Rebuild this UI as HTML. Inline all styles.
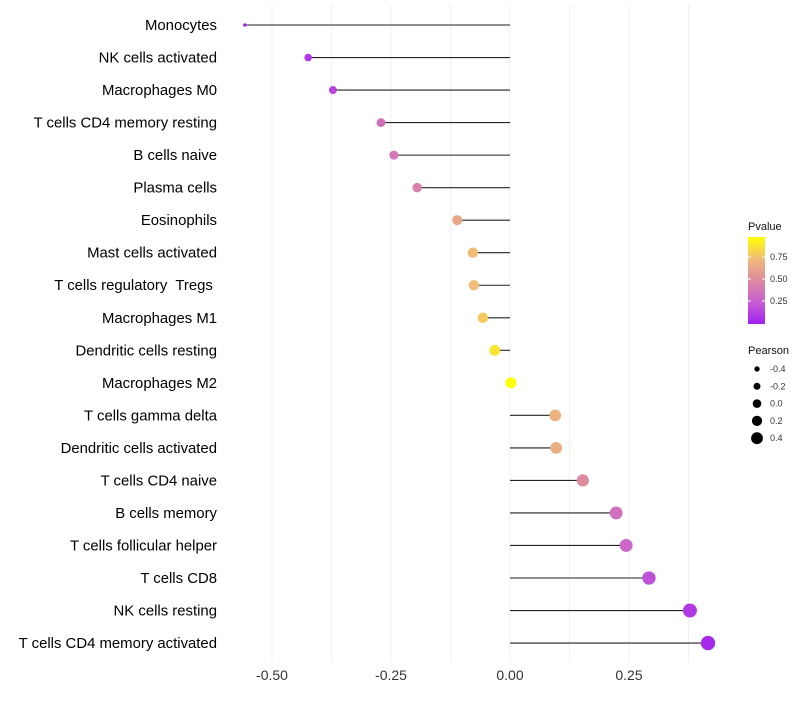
<!DOCTYPE html>
<html><head><meta charset="utf-8"><style>
body{margin:0;background:#fff;font-family:"Liberation Sans",sans-serif}
text{white-space:pre}
</style></head><body>
<svg id="c" width="800" height="700" xmlns="http://www.w3.org/2000/svg" font-family="Liberation Sans, sans-serif"></svg>
<script>
const cells=["Monocytes","NK cells activated","Macrophages M0","T cells CD4 memory resting","B cells naive","Plasma cells","Eosinophils","Mast cells activated","T cells regulatory  Tregs ","Macrophages M1","Dendritic cells resting","Macrophages M2","T cells gamma delta","Dendritic cells activated","T cells CD4 naive","B cells memory","T cells follicular helper","T cells CD8","NK cells resting","T cells CD4 memory activated"];
const pearson=[-0.557,-0.424,-0.372,-0.271,-0.244,-0.195,-0.111,-0.078,-0.076,-0.057,-0.032,0.002,0.095,0.097,0.153,0.223,0.244,0.292,0.378,0.416];
const pvalue=[0.03,0.1,0.15,0.35,0.4,0.45,0.65,0.75,0.75,0.8,0.9,1.0,0.7,0.68,0.5,0.35,0.3,0.2,0.1,0.04];
const xTicks=[-0.5,-0.25,0,0.25];
const xTickLabels=["-0.50","-0.25","0.00","0.25"];
const xMinor=[-0.375,-0.125,0.125,0.375];
const legTicks=[0.25,0.5,0.75];
const legSizes=[-0.4,-0.2,0.0,0.2,0.4];
const legSizeLabels=["-0.4","-0.2","0.0","0.2","0.4"];

const svg=document.getElementById('c');const NS="http://www.w3.org/2000/svg";
function mk(t,a,p){const e=document.createElementNS(NS,t);for(const k in a)e.setAttribute(k,a[k]);(p||svg).appendChild(e);return e;}
const X=v=>510+v*476;
const Y=i=>25+i*32.53;
const R=v=>v<-0.5?1.8:5.5+4*v;
const stops=[[0,[160,32,240]],[0.25,[198,94,210]],[0.5,[220,138,160]],[0.75,[240,188,120]],[1,[255,255,0]]];
function col(p){for(let i=1;i<stops.length;i++){if(p<=stops[i][0]){const a=stops[i-1],b=stops[i],t=(p-a[0])/(b[0]-a[0]);return 'rgb('+a[1].map((c,j)=>Math.round(c+(b[1][j]-c)*t)).join(',')+')';}}return 'rgb(255,255,0)';}
const grid=mk('g',{});  
xMinor.concat(xTicks).forEach(v=>{mk('line',{x1:X(v),x2:X(v),y1:5,y2:662,stroke:'#f0f0f0','stroke-width':1},grid);});
cells.forEach((c,i)=>{
 const t=mk('text',{x:217,y:Y(i)+5,'text-anchor':'end','font-size':14.9,fill:'#000'});t.textContent=c;
 
 const l=mk('line',{x1:X(0),x2:X(pearson[i]),y1:Y(i),y2:Y(i),stroke:'#222','stroke-width':1.1});
 
 const d=mk('circle',{cx:X(pearson[i]),cy:Y(i),r:R(pearson[i]),fill:col(pvalue[i])});
 
});
xTicks.forEach((v,i)=>{const t=mk('text',{x:X(v),y:680,'text-anchor':'middle','font-size':14,fill:'#333'});t.textContent=xTickLabels[i];
 });
const lg=mk('g',{});
let t=mk('text',{x:748,y:230,'font-size':11,fill:'#111'},lg);t.textContent='Pvalue';
const df=mk('defs',{});const gr=mk('linearGradient',{id:'g',x1:0,y1:1,x2:0,y2:0},df);
stops.forEach(s=>mk('stop',{offset:s[0],'stop-color':col(s[0])},gr));
const cb=mk('rect',{x:748,y:237,width:17,height:87,fill:'url(#g)'},lg);
const PY=p=>323-p*88;
legTicks.forEach(p=>{mk('line',{x1:748,x2:751,y1:PY(p),y2:PY(p),stroke:'#fff'},lg);mk('line',{x1:762,x2:765,y1:PY(p),y2:PY(p),stroke:'#fff'},lg);
 const q=mk('text',{x:770,y:PY(p)+3,'font-size':9,fill:'#333'},lg);q.textContent=p.toFixed(2);});
t=mk('text',{x:748,y:354,'font-size':11,fill:'#111'},lg);t.textContent='Pearson';
legSizes.forEach((v,i)=>{const y=369+i*17.3;mk('circle',{cx:757,cy:y,r:4.3+v*4,fill:'#000'},lg);
 const q=mk('text',{x:770,y:y+3,'font-size':9,fill:'#333'},lg);q.textContent=legSizeLabels[i];});
</script>
</body></html>
